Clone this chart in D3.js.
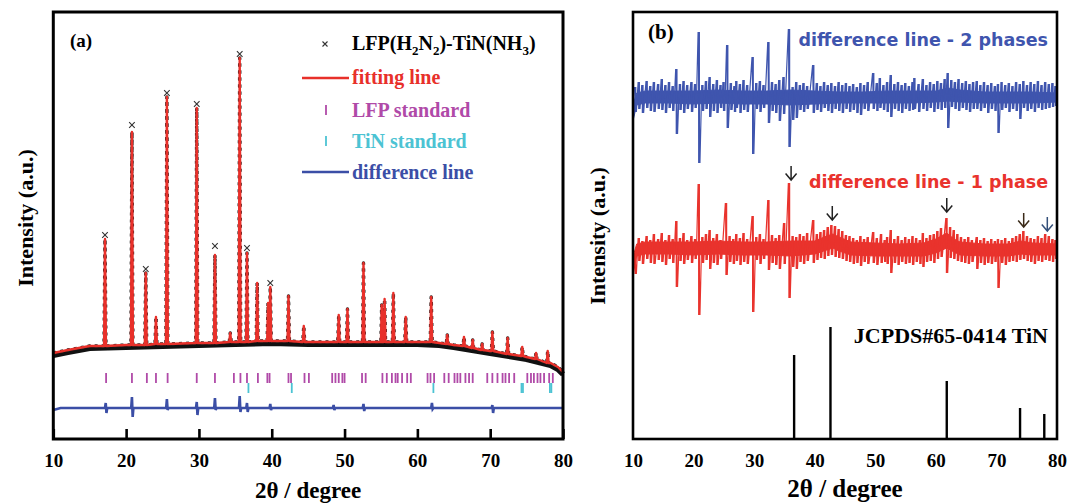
<!DOCTYPE html>
<html><head><meta charset="utf-8">
<script src="https://cdn.jsdelivr.net/npm/d3@7"></script>
<style>body{margin:0;background:#fff}</style>
</head><body>
<svg id="chart" width="1070" height="504" xmlns="http://www.w3.org/2000/svg"></svg>
<script>
// ---------- DATA ----------
const xTicks = [10, 20, 30, 40, 50, 60, 70, 80];
// Panel (a): background of the refined pattern [2theta, intensity]
const bgKnots = [[10,86],[12,89],[15,93],[20,94],[25,95],[30,96],[35,97],[40,98],[45,97],[50,97],[55,97],[60,97],[63,96],[65,94],[70,88],[75,82],[78.3,76],[79.3,72],[80,67]];
// Peaks [2theta, base, top]
const peaks = [[17.1,93,200],[20.8,94,307],[22.7,94,166],[24.1,95,122],[25.6,95,342],[29.7,96,331],[32.2,96,184],[34.3,97,106],[35.6,97,381],[36.6,97,186],[38.0,98,156],[39.5,98,136],[39.8,98,152],[42.3,98,143],[44.4,97,113],[49.2,97,124],[50.4,97,130],[52.6,97,176],[55.1,97,134],[55.5,97,140],[56.7,97,146],[58.4,97,122],[61.9,97,142],[64.1,95,104],[66.4,93,102],[67.6,91,99],[68.9,89,95],[70.3,88,107],[72.4,85,101],[74.4,83,92],[76.3,80,86],[77.9,76,88]];
// observed maxima (x markers) [2theta, intensity]
const obsTops = [[17.1,202],[20.8,312],[22.7,168],[25.6,344],[29.7,333],[32.2,191],[35.6,383],[36.6,189],[39.8,154]];
// LFP and TiN standard reflections (2theta)
const lfpStd = [17.25,20.8,22.85,24.1,25.7,29.7,32.2,34.8,35.7,36.6,38.1,39.4,39.7,42.3,42.65,44.5,45.1,48.3,48.75,49.2,49.7,50.0,52.4,52.9,55.2,55.8,56.5,57.0,57.3,57.9,58.6,59.1,61.4,61.8,62.3,63.7,64.3,65.1,65.5,65.9,66.6,67.1,67.6,69.6,70.3,71.0,71.7,72.1,72.6,73.3,75.1,75.6,76.0,76.5,76.9,77.4,78.1,78.6];
const tinStd = [36.8,42.75,62.2,74.3,74.5,78.2,78.4];
// Panel (a) difference line: level and spikes [2theta, top, bottom]
const diffALevel = [[10,29],[11,31],[20,31],[40,31],[60,31],[80,31]];
const diffASpikes = [[17.2,36,26],[20.8,42,22],[25.6,40,29],[29.7,37,24],[32.2,41,29],[35.6,43,27],[36.6,36,27],[39.8,35,29],[48.5,34,29],[52.6,35,28],[62.0,36,30],[70.3,34,26]];

// Panel (b): difference line 2 phases, core band [2theta, upper, lower] and spikes [2theta, top, bottom]
const blueBand = [[10,334,318],[10.6,346,334],[12,348,336],[16,348,336],[20,348,335],[24,349,336],[28,348,335],[32,348,335],[36,349,334],[40,348,335],[44,347,336],[48,347,336],[52,348,336],[56,348,336],[60,348,337],[62,351,338],[64,349,337],[68,347,336],[72,347,336],[76,347,336],[80,346,337]];
const blueSpikes = [[10.4,352,327],[11.0,357,330],[11.6,354,326],[12.3,358,331],[12.9,353,328],[13.5,357,327],[14.2,355,330],[14.8,360,329],[15.4,354,326],[16.0,357,331],[16.6,353,328],[17.2,370,305],[17.8,355,329],[18.4,358,326],[19.0,354,330],[19.7,357,327],[20.3,355,331],[20.9,407,276],[21.5,354,328],[22.1,358,330],[22.7,362,322],[23.3,355,328],[23.9,359,326],[24.5,354,331],[25.0,357,328],[25.6,394,311],[26.2,356,329],[26.8,353,327],[27.1,358,331],[27.7,355,326],[28.3,359,329],[28.9,354,327],[29.8,382,285],[30.4,356,330],[31.0,358,327],[31.6,354,331],[32.4,397,316],[33.0,357,328],[33.6,355,326],[34.2,359,318],[34.9,362,325],[35.8,410,292],[36.4,352,319],[37.0,357,321],[37.6,354,329],[38.2,356,327],[38.8,353,330],[39.8,374,326],[40.4,356,329],[41.0,353,327],[41.6,357,331],[42.2,354,328],[42.8,356,326],[43.4,353,330],[44.0,357,328],[44.6,354,326],[45.2,356,330],[45.8,353,327],[46.4,355,329],[47.0,352,326],[47.6,356,324],[48.2,354,330],[48.8,357,328],[49.7,366,330],[50.3,356,328],[50.8,361,331],[51.4,354,329],[52.0,357,327],[52.6,364,322],[53.2,355,330],[53.8,357,328],[54.4,354,326],[55.0,356,330],[55.6,353,328],[56.2,357,329],[56.5,361,330],[57.2,355,327],[57.9,360,330],[58.5,354,328],[59.1,357,331],[59.7,355,327],[60.3,358,330],[60.9,356,329],[61.5,360,331],[62.0,366,311],[62.6,359,332],[63.2,357,330],[63.8,360,328],[64.4,356,331],[65.0,358,329],[65.6,355,327],[66.2,357,330],[66.8,358,330],[67.4,354,328],[68.0,357,331],[68.6,354,326],[69.2,356,330],[69.8,353,328],[70.3,355,306],[70.9,357,329],[71.5,354,331],[72.1,356,327],[72.7,353,330],[73.3,357,328],[73.9,355,320],[74.5,358,331],[75.1,354,328],[75.7,357,330],[76.3,355,327],[76.9,358,331],[77.5,354,329],[78.1,357,330],[78.7,355,331],[79.3,356,332],[79.8,353,333]];
// difference line 1 phase
const redBand = [[10,182,164],[10.6,195,183],[12,197,185],[16,197,185],[20,197,184],[24,198,185],[28,197,184],[32,197,184],[36,198,183],[40,198,185],[42,203,189],[43,205,191],[44,202,188],[46,197,184],[50,196,183],[54,195,183],[58,196,183],[60,200,186],[61.8,206,191],[63,200,187],[64,197,184],[68,195,183],[72,195,183],[74,198,185],[76,196,184],[80,195,184]];
const redSpikes = [[10.4,186,165],[11.0,201,178],[11.6,198,175],[12.3,203,180],[12.9,199,176],[13.5,205,175],[14.2,200,179],[14.8,206,177],[15.4,199,174],[16.0,204,180],[16.6,200,176],[17.2,218,152],[17.8,201,178],[18.4,206,175],[19.0,199,179],[19.7,203,176],[20.3,200,180],[20.9,255,124],[21.5,202,176],[22.1,205,179],[22.7,209,170],[23.3,201,176],[23.9,205,174],[24.5,199,180],[25.4,236,164],[26.0,203,177],[26.6,200,175],[27.1,205,178],[27.7,201,174],[28.3,206,177],[28.9,200,175],[29.8,223,127],[30.4,202,179],[31.0,205,175],[31.6,200,180],[32.4,239,169],[33.0,204,176],[33.6,201,174],[34.2,204,170],[35.0,216,175],[35.8,256,141],[36.4,203,172],[37.0,202,170],[37.6,205,177],[38.2,203,175],[38.8,206,178],[39.8,219,176],[40.4,205,179],[41.0,207,181],[41.6,209,180],[42.2,212,183],[42.8,214,184],[43.4,213,182],[44.0,210,181],[44.6,208,180],[45.2,204,178],[45.8,203,177],[46.4,201,175],[47.0,199,176],[47.6,203,173],[48.2,200,177],[48.8,202,175],[49.7,207,176],[50.3,201,174],[51.0,205,176],[51.6,199,177],[52.0,202,175],[52.6,209,166],[53.2,200,176],[53.8,203,174],[54.4,199,177],[55.0,202,175],[55.6,200,176],[56.2,203,174],[56.8,201,177],[57.4,199,175],[57.9,206,172],[58.5,201,177],[59.1,204,178],[59.7,205,176],[60.3,208,180],[60.9,211,182],[61.8,221,166],[62.4,212,181],[63.0,209,180],[63.6,205,178],[64.2,202,177],[64.8,200,176],[65.4,202,175],[66.0,199,177],[66.8,202,170],[67.4,199,176],[68.0,201,174],[68.6,198,176],[69.2,200,175],[69.8,198,177],[70.3,200,151],[70.9,199,176],[71.5,201,174],[72.1,198,177],[72.7,201,178],[73.3,203,177],[73.9,205,179],[74.5,208,180],[75.1,203,178],[75.7,201,177],[76.3,200,175],[76.9,203,178],[77.5,201,177],[78.1,205,179],[78.7,203,178],[79.3,200,177],[79.8,199,180]];
// arrows marking TiN reflections: tip position
const arrowX = [36.1, 42.9, 61.8, 74.5, 78.4];
const arrowY = [259, 219, 227, 212, 208];
// JCPDS#65-0414 TiN reference sticks
const tinPos = [36.6, 42.6, 61.8, 73.9, 77.9];
const tinInt = [84, 112, 58, 31, 25];

// ---------- DRAW ----------
const svg = d3.select("#chart");
const SERIF = "'Liberation Serif','Times New Roman',serif";
const SANS = "'DejaVu Sans',Verdana,sans-serif";
const RED = "#e8302a", MAG = "#b04aa8", CYAN = "#4cc3d3", BLUE = "#3b4ea6";

const xA = d3.scaleLinear().domain([10, 80]).range([53.3, 563]);
const xB = d3.scaleLinear().domain([10, 80]).range([633, 1057]);
const y = d3.scaleLinear().domain([0, 426]).range([439, 13]);

// ---- Panel (a) ----
const gA = svg.append("g");
const fitPts = bgKnots.map(d => [d[0], d[1]]);
peaks.forEach(p => { fitPts.push([p[0] - 0.13, p[1]], [p[0], p[2]], [p[0] + 0.13, p[1]]); });
fitPts.sort((a, b) => a[0] - b[0]);
const lineA = d3.line().x(d => xA(d[0])).y(d => y(d[1]));
// observed data band (black) under the fit
gA.append("path").attr("d", lineA(bgKnots)).attr("fill", "none").attr("stroke", "#111")
  .attr("stroke-width", 5.5).attr("stroke-linejoin", "round").attr("transform", "translate(0,2.3)");
gA.append("path").attr("d", lineA(fitPts)).attr("fill", "none").attr("stroke", "#222")
  .attr("stroke-width", 3.4).attr("stroke-linejoin", "round").attr("stroke-dasharray", "3,4");
gA.append("path").attr("d", lineA(fitPts)).attr("fill", "none").attr("stroke", RED)
  .attr("stroke-width", 2.4).attr("stroke-linejoin", "round");
const xMark = (g, cx, cy, s) => g.append("path")
  .attr("d", `M${cx - s},${cy - s}L${cx + s},${cy + s}M${cx - s},${cy + s}L${cx + s},${cy - s}`)
  .attr("stroke", "#333").attr("stroke-width", 1.1).attr("fill", "none");
obsTops.forEach(d => xMark(gA, xA(d[0]), y(d[1]) - 2, 2.8));

gA.selectAll("line.lfp").data(lfpStd).join("line").attr("class", "lfp")
  .attr("x1", d => xA(d)).attr("x2", d => xA(d)).attr("y1", 373).attr("y2", 383)
  .attr("stroke", MAG).attr("stroke-width", 1.8);
gA.selectAll("line.tin").data(tinStd).join("line").attr("class", "tin")
  .attr("x1", d => xA(d)).attr("x2", d => xA(d)).attr("y1", 383).attr("y2", 393)
  .attr("stroke", CYAN).attr("stroke-width", 1.8);

const diffPts = diffALevel.map(d => [d[0], d[1]]);
diffASpikes.forEach(s => { diffPts.push([s[0] - 0.1, 31], [s[0], s[1]], [s[0] + 0.1, s[2]], [s[0] + 0.2, 31]); });
diffPts.sort((a, b) => a[0] - b[0]);
gA.append("path").attr("d", lineA(diffPts)).attr("fill", "none").attr("stroke", BLUE)
  .attr("stroke-width", 2.6).attr("stroke-linejoin", "miter");

gA.append("rect").attr("x", xA(10)).attr("y", 12).attr("width", xA(80) - xA(10)).attr("height", 439 - 12)
  .attr("fill", "none").attr("stroke", "#000").attr("stroke-width", 3);
const axA = gA.append("g").attr("transform", "translate(0,439)")
  .call(d3.axisBottom(xA).tickValues(xTicks).tickSizeInner(-10).tickSizeOuter(0).tickPadding(15).tickFormat(d3.format("d")));
axA.select(".domain").remove();
axA.selectAll(".tick line").attr("stroke", "#000").attr("stroke-width", 2.6);
axA.selectAll(".tick text").attr("font-family", SERIF).attr("font-weight", "bold").attr("font-size", 19).attr("fill", "#000");
gA.append("text").attr("x", (xA(10) + xA(80)) / 2).attr("y", 498).attr("text-anchor", "middle")
  .attr("font-family", SERIF).attr("font-weight", "bold").attr("font-size", 23).text("2θ / degree");
gA.append("text").attr("transform", "translate(33,218) rotate(-90)").attr("text-anchor", "middle")
  .attr("font-family", SERIF).attr("font-weight", "bold").attr("font-size", 22).text("Intensity (a.u.)");
gA.append("text").attr("x", 70).attr("y", 47).attr("font-family", SERIF).attr("font-weight", "bold")
  .attr("font-size", 19).text("(a)");

const lx = 352;
xMark(gA, 325, 44, 2.5);
const t1 = gA.append("text").attr("x", lx).attr("y", 50).attr("font-family", SERIF).attr("font-weight", "bold").attr("font-size", 20);
t1.append("tspan").text("LFP(H");
t1.append("tspan").attr("dy", 5).attr("font-size", 13).text("2");
t1.append("tspan").attr("dy", -5).text("N");
t1.append("tspan").attr("dy", 5).attr("font-size", 13).text("2");
t1.append("tspan").attr("dy", -5).text(")-TiN(NH");
t1.append("tspan").attr("dy", 5).attr("font-size", 13).text("3");
t1.append("tspan").attr("dy", -5).text(")");
gA.append("line").attr("x1", 302).attr("x2", 349).attr("y1", 78).attr("y2", 78).attr("stroke", RED).attr("stroke-width", 2.5);
gA.append("text").attr("x", lx).attr("y", 84).attr("fill", RED).attr("font-family", SERIF).attr("font-weight", "bold").attr("font-size", 20).text("fitting line");
gA.append("line").attr("x1", 326).attr("x2", 326).attr("y1", 105).attr("y2", 115).attr("stroke", MAG).attr("stroke-width", 1.8);
gA.append("text").attr("x", lx).attr("y", 117).attr("fill", MAG).attr("font-family", SERIF).attr("font-weight", "bold").attr("font-size", 20).text("LFP standard");
gA.append("line").attr("x1", 326).attr("x2", 326).attr("y1", 136).attr("y2", 146).attr("stroke", CYAN).attr("stroke-width", 1.8);
gA.append("text").attr("x", lx).attr("y", 148).attr("fill", CYAN).attr("font-family", SERIF).attr("font-weight", "bold").attr("font-size", 20).text("TiN standard");
gA.append("line").attr("x1", 302).attr("x2", 349).attr("y1", 172).attr("y2", 172).attr("stroke", BLUE).attr("stroke-width", 2.5);
gA.append("text").attr("x", lx).attr("y", 179).attr("fill", BLUE).attr("font-family", SERIF).attr("font-weight", "bold").attr("font-size", 20).text("difference line");

// ---- Panel (b) ----
const gB = svg.append("g");
const areaB = d3.area().x(d => xB(d[0])).y0(d => y(d[2])).y1(d => y(d[1]));
function drawDiff(band, spikes, color) {
  gB.append("path").attr("d", areaB(band)).attr("fill", color).attr("stroke", color).attr("stroke-width", 1);
  gB.selectAll(null).data(spikes).join("line")
    .attr("x1", d => xB(d[0])).attr("x2", d => xB(d[0]))
    .attr("y1", d => y(d[1])).attr("y2", d => y(d[2]))
    .attr("stroke", color).attr("stroke-width", 1.9);
  const zig = [];
  spikes.forEach(d => { zig.push([d[0] - 0.15, d[1]], [d[0] + 0.15, d[2]]); });
  gB.append("path").attr("d", d3.line().x(d => xB(d[0])).y(d => y(d[1]))(zig))
    .attr("fill", "none").attr("stroke", color).attr("stroke-width", 1.2);
}
drawDiff(blueBand, blueSpikes, "#3f55ae");
drawDiff(redBand, redSpikes, "#e9332d");

gB.selectAll("line.tinref").data(tinPos).join("line").attr("class", "tinref")
  .attr("x1", d => xB(d)).attr("x2", d => xB(d)).attr("y1", y(0)).attr("y2", (d, i) => y(tinInt[i]))
  .attr("stroke", "#000").attr("stroke-width", 2.4);

const arrowCol = ["#222", "#222", "#222", "#3a2a18", "#34507a"];
arrowX.forEach((ax, i) => {
  const px = xB(ax), py = y(arrowY[i]);
  gB.append("path").attr("d", `M${px},${py - 14}L${px},${py}M${px - 5.5},${py - 6.5}L${px},${py}L${px + 5.5},${py - 6.5}`)
    .attr("fill", "none").attr("stroke", arrowCol[i]).attr("stroke-width", 1.5);
});

gB.append("text").attr("x", 1048).attr("y", 46).attr("text-anchor", "end").attr("fill", "#3f55ae")
  .attr("font-family", SANS).attr("font-weight", "bold").attr("font-size", 17.5).text("difference line - 2 phases");
gB.append("text").attr("x", 1048).attr("y", 188).attr("text-anchor", "end").attr("fill", "#e9332d")
  .attr("font-family", SANS).attr("font-weight", "bold").attr("font-size", 17.5).text("difference line - 1 phase");
gB.append("text").attr("x", 1048).attr("y", 343).attr("text-anchor", "end").attr("fill", "#000")
  .attr("font-family", SERIF).attr("font-weight", "bold").attr("font-size", 22).text("JCPDS#65-0414 TiN");
gB.append("text").attr("x", 648).attr("y", 39).attr("font-family", SERIF).attr("font-weight", "bold")
  .attr("font-size", 21).text("(b)");

gB.append("rect").attr("x", xB(10)).attr("y", 12).attr("width", xB(80) - xB(10)).attr("height", 439 - 12)
  .attr("fill", "none").attr("stroke", "#000").attr("stroke-width", 2.6);
const axB = gB.append("g").attr("transform", "translate(0,439)")
  .call(d3.axisBottom(xB).tickValues(xTicks).tickSizeInner(0).tickSizeOuter(0).tickPadding(15).tickFormat(d3.format("d")));
axB.select(".domain").remove();
axB.selectAll(".tick text").attr("font-family", SERIF).attr("font-weight", "bold").attr("font-size", 19).attr("fill", "#000");
gB.append("text").attr("x", (xB(10) + xB(80)) / 2).attr("y", 497).attr("text-anchor", "middle")
  .attr("font-family", SERIF).attr("font-weight", "bold").attr("font-size", 25).text("2θ / degree");
gB.append("text").attr("transform", "translate(605,236) rotate(-90)").attr("text-anchor", "middle")
  .attr("font-family", SERIF).attr("font-weight", "bold").attr("font-size", 22).text("Intensity (a.u.)");
</script>
</body></html>
